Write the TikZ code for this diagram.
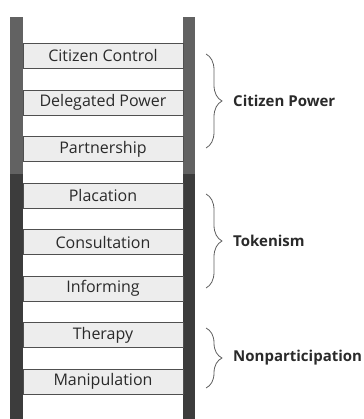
\documentclass[tikz,border=0pt]{standalone}
\usepackage{fontspec}
\setmainfont{Open Sans}
\usetikzlibrary{decorations.pathreplacing}
\definecolor{railtop}{HTML}{626262}
\definecolor{railbot}{HTML}{3C3C3C}
\definecolor{rungfill}{HTML}{EDEDED}
\definecolor{rungline}{HTML}{505050}
\definecolor{txt}{HTML}{2A2A2A}
\definecolor{bracec}{HTML}{606060}
\tikzset{
  rung/.style={draw=rungline, line width=0.9pt, fill=rungfill, minimum width=160pt, minimum height=25pt, inner sep=0pt, text=txt, font=\fontsize{16}{18}\selectfont},
  grp/.style={anchor=west, text=txt, font=\bfseries\fontsize{15}{17}\selectfont, inner sep=0pt},
  brc/.style={draw=bracec, line width=0.8pt, decorate, decoration={brace, amplitude=16pt, aspect=0.5}}
}
\begin{document}
\begin{tikzpicture}[x=1pt,y=-1pt]
\useasboundingbox (0,0) rectangle (363,419);
% rails
\fill[railtop] (10,17) rectangle (23,174);
\fill[railtop] (183,17) rectangle (195,174);
\fill[railbot] (10,174) rectangle (23,419);
\fill[railbot] (183,174) rectangle (195,419);
% rungs
\node[rung] (cc) at (103,56) {Citizen Control};
\node[rung] (dp) at (103,102.5) {Delegated Power};
\node[rung] (pa) at (103,149) {Partnership};
\node[rung] (pl) at (103,195.5) {Placation};
\node[rung] (co) at (103,242) {Consultation};
\node[rung] (in) at (103,288.5) {Informing};
\node[rung] (th) at (103,335) {Therapy};
\node[rung] (ma) at (103,381.5) {Manipulation};
% braces
\coordinate (b1a) at (206,54);
\coordinate (b1b) at (206,148);
\coordinate (b2a) at (206,194);
\coordinate (b2b) at (206,288);
\coordinate (b3a) at (206,328);
\coordinate (b3b) at (206,388);
\draw[brc] (b1a) -- (b1b);
\draw[brc] (b2a) -- (b2b);
\draw[brc] (b3a) -- (b3b);
\node[grp] (cp) at (233,101) {Citizen Power};
\node[grp] (tk) at (233,241) {Tokenism};
\node[grp] (np) at (233,358) {Nonparticipation};
\end{tikzpicture}
\end{document}
